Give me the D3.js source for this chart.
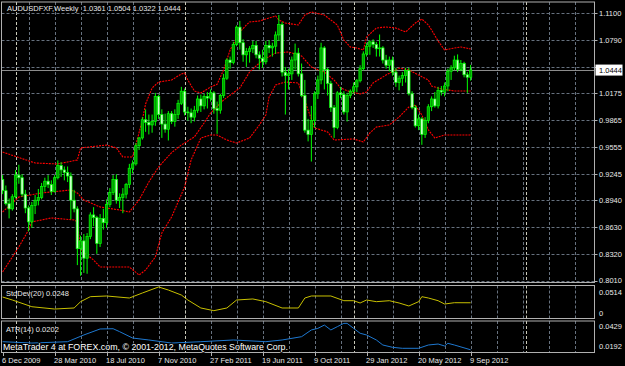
<!DOCTYPE html>
<html>
<head>
<meta charset="utf-8">
<script src="https://cdn.jsdelivr.net/npm/d3@7"></script>
<style>
body { margin: 0; background: #000; }
svg { display: block; }
text { font-family: "Liberation Sans", Arial, sans-serif; }
</style>
</head>
<body>
<svg id="chart"></svg>
<script>
var headerText = "AUDUSDFXF,Weekly  1.0361 1.0504 1.0322 1.0444";
var copyrightText = "MetaTrader 4 at FOREX.com, \u00a9 2001-2012, MetaQuotes Software Corp.";
var lastPrice = 1.0444;

// weekly bars, 6 Dec 2009 .. 9 Sep 2012
var opens = [.9180,.9050,.8900,.8840,.8980,.9230,.9200,.9010,.8850,.8690,.8880,.8940,.8970,.9100,.9160,.9120,.9040,.9200,.9340,.9290,
  .9260,.9220,.8940,.8840,.8380,.8470,.8270,.8520,.8770,.8740,.8440,.8730,.8680,.8890,.9030,.9180,.8940,.8970,.9010,.9120,
  .9310,.9360,.9570,.9660,.9870,.9840,.9810,.9850,1.0140,.9930,.9820,.9760,.9940,.9850,.9930,1.0060,1.0200,.9960,.9950,.9900,
  .9980,1.0110,1.0030,1.0140,1.0120,1.0180,1.0000,.9980,1.0150,1.0350,1.0560,1.0530,1.0740,1.0940,1.0760,1.0620,1.0660,1.0690,1.0730,1.0620,
  1.0580,1.0540,1.0730,1.0700,1.0720,1.0850,1.0970,1.0420,1.0380,1.0400,1.0560,1.0640,1.0400,1.0150,.9750,.9700,.9860,1.0170,1.0330,1.0700,
  1.0450,1.0290,1.0010,.9780,1.0180,1.0160,.9960,1.0150,1.0200,1.0250,1.0320,1.0460,1.0630,1.0720,1.0770,1.0740,1.0690,1.0700,1.0560,1.0500,
  1.0560,1.0420,1.0300,1.0350,1.0380,1.0440,1.0170,1.0010,.9800,.9880,.9700,.9860,1.0020,1.0110,1.0030,1.0210,1.0190,1.0260,1.0430,1.0470,
  1.0560,1.0450,1.0520,1.0390,1.0361];
var highs = [.9230,.9110,.8960,.9010,.9290,.9350,.9240,.9060,.8880,.8920,.9000,.9070,.9140,.9200,.9230,.9170,.9230,.9400,.9380,.9330,
  .9330,.9260,.9060,.8870,.8530,.8550,.8560,.8800,.8860,.8760,.8780,.8840,.8950,.9080,.9230,.9240,.9020,.9080,.9140,.9360,
  .9400,.9600,.9670,.9900,.9990,.9930,.9930,1.0180,1.0160,.9990,.9940,.9970,.9970,.9990,1.0100,1.0250,1.0230,1.0020,1.0000,1.0030,
  1.0150,1.0160,1.0170,1.0190,1.0220,1.0200,1.0080,1.0170,1.0400,1.0580,1.0600,1.0770,1.0960,1.1012,1.0800,1.0700,1.0720,1.0780,1.0780,1.0660,
  1.0680,1.0780,1.0790,1.0760,1.0890,1.1081,1.1000,1.0480,1.0460,1.0600,1.0750,1.0700,1.0520,1.0330,.9880,1.0030,1.0200,1.0380,1.0760,1.0720,
  1.0470,1.0320,1.0040,1.0200,1.0250,1.0200,1.0180,1.0220,1.0300,1.0340,1.0500,1.0660,1.0760,1.0790,1.0800,1.0770,1.0855,1.0720,1.0620,1.0600,
  1.0600,1.0470,1.0380,1.0420,1.0470,1.0470,1.0200,1.0040,.9930,.9900,.9900,1.0050,1.0140,1.0190,1.0250,1.0260,1.0300,1.0460,1.0500,1.0610,
  1.0625,1.0560,1.0540,1.0420,1.0504];
var lows = [.9010,.8880,.8730,.8820,.8960,.9130,.8980,.8790,.8580,.8620,.8780,.8880,.8950,.9040,.9080,.9000,.9030,.9180,.9210,.9170,
  .9150,.8720,.8800,.8190,.8067,.8100,.8090,.8490,.8640,.8320,.8400,.8600,.8620,.8860,.9000,.8900,.8850,.8790,.8960,.9080,
  .9250,.9340,.9520,.9640,.9730,.9700,.9720,.9800,.9880,.9660,.9720,.9630,.9820,.9790,.9880,1.0040,.9920,.9860,.9830,.9850,
  .9950,.9960,.9990,1.0000,1.0080,.9940,.9707,.9940,1.0120,1.0330,1.0460,1.0510,1.0720,1.0680,1.0540,1.0480,1.0530,1.0640,1.0580,1.0450,
  1.0470,1.0510,1.0640,1.0600,1.0630,1.0780,1.0370,.9930,1.0220,1.0330,1.0450,1.0370,1.0130,.9720,.9620,.9387,.9780,1.0110,1.0280,1.0220,
  1.0150,.9960,.9660,.9760,1.0120,.9930,.9850,1.0120,1.0170,1.0190,1.0300,1.0440,1.0600,1.0620,1.0700,1.0600,1.0600,1.0520,1.0460,1.0430,
  1.0380,1.0250,1.0210,1.0260,1.0300,1.0150,.9990,.9780,.9750,.9580,.9660,.9830,.9970,1.0010,1.0000,1.0150,1.0140,1.0200,1.0330,1.0440,
  1.0420,1.0430,1.0360,1.0180,1.0322];
var closes = [.9050,.8900,.8840,.8980,.9230,.9200,.9010,.8850,.8690,.8880,.8940,.8970,.9100,.9160,.9120,.9040,.9200,.9340,.9290,.9260,
  .9220,.8940,.8840,.8380,.8470,.8270,.8520,.8770,.8740,.8440,.8730,.8680,.8890,.9030,.9180,.8940,.8970,.9010,.9120,.9310,
  .9360,.9570,.9660,.9870,.9840,.9810,.9850,1.0140,.9930,.9820,.9760,.9940,.9850,.9930,1.0060,1.0200,.9960,.9950,.9900,.9980,
  1.0110,1.0030,1.0140,1.0120,1.0180,1.0000,.9980,1.0150,1.0350,1.0560,1.0530,1.0740,1.0940,1.0760,1.0620,1.0660,1.0690,1.0730,1.0620,1.0580,
  1.0540,1.0730,1.0700,1.0720,1.0850,1.0970,1.0420,1.0380,1.0400,1.0560,1.0640,1.0400,1.0150,.9750,.9700,.9860,1.0170,1.0330,1.0700,1.0450,
  1.0290,1.0010,.9780,1.0180,1.0160,.9960,1.0150,1.0200,1.0250,1.0320,1.0460,1.0630,1.0720,1.0770,1.0740,1.0690,1.0700,1.0560,1.0500,1.0560,
  1.0420,1.0300,1.0350,1.0380,1.0440,1.0170,1.0010,.9800,.9880,.9700,.9860,1.0020,1.0110,1.0030,1.0210,1.0190,1.0260,1.0430,1.0470,1.0560,
  1.0450,1.0520,1.0390,1.0361,1.0444];

// Bollinger bands: [bar, price]
var upperBand = [[0,.9497],[10,.9370],[17,.9359],[23,.9405],[24,.9544],[32,.9578],[35,.9544],[37,.9440],[40,.9440],[41,.9578],
  [43,.9867],[44,1.0052],[46,1.0237],[48,1.0306],[52,1.0329],[55,1.0399],[56,1.0410],[57,1.0329],[59,1.0202],[61,1.0179],
  [64,1.0248],[66,1.0280],[68,1.0445],[70,1.0676],[73,1.0884],[75,1.0965],[76,1.1000],[79,1.1011],[83,1.1057],[84,1.1069],
  [85,1.1023],[87,1.0988],[91,1.0965],[93,1.1080],[95,1.1115],[99,1.1080],[103,1.0965],[105,1.0791],[107,1.0711],[109,1.0699],
  [111,1.0676],[112,1.0826],[115,1.0930],[118,1.0942],[121,1.0930],[124,1.0884],[127,1.0988],[129,1.1034],[131,1.0965],[132,1.0907],
  [134,1.0780],[136,1.0676],[139,1.0699],[141,1.0711],[144,1.0688]];
var middleBand = [[0,.8804],[5,.8977],[12,.9024],[21,.9058],[23,.9024],[25,.8943],[30,.8862],[36,.8827],[39,.8804],[42,.8943],
  [45,.9151],[48,.9324],[52,.9490],[55,.9578],[59,.9671],[62,.9833],[64,.9948],[68,1.0098],[73,1.0237],[76,1.0422],
  [80,1.0560],[84,1.0641],[88,1.0653],[92,1.0607],[95,1.0479],[99,1.0422],[102,1.0329],[104,1.0237],[107,1.0191],[110,1.0168],
  [112,1.0191],[114,1.0295],[118,1.0387],[122,1.0468],[125,1.0445],[128,1.0387],[131,1.0329],[132,1.0260],[135,1.0225],[139,1.0202],
  [144,1.0202]];
var lowerBand = [[0,.8111],[3,.8284],[5,.8400],[8,.8596],[9,.8689],[15,.8735],[22,.8712],[23,.8689],[24,.8365],[28,.8249],
  [30,.8168],[39,.8168],[42,.8076],[44,.8134],[47,.8284],[49,.8562],[52,.8746],[56,.9093],[58,.9405],[61,.9659],
  [64,.9694],[66,.9694],[69,.9636],[72,.9601],[76,.9659],[79,.9809],[81,.9925],[82,1.0133],[84,1.0272],[87,1.0306],
  [91,1.0295],[92,1.0191],[94,.9983],[96,.9775],[100,.9729],[102,.9636],[108,.9648],[111,.9613],[113,.9717],[115,.9786],
  [119,.9809],[122,.9902],[125,1.0017],[127,1.0040],[129,.9925],[131,.9752],[133,.9659],[136,.9694],[144,.9694]];

var stdDevLine = [[0,.0348],[3,.0296],[9,.0179],[16,.0139],[22,.0157],[24,.0267],[27,.0354],[32,.0366],[39,.0331],[43,.0418],
  [48,.0523],[51,.0470],[55,.0383],[57,.0296],[61,.0157],[65,.0110],[69,.0157],[72,.0296],[77,.0314],[81,.0267],
  [86,.0157],[91,.0157],[93,.0331],[95,.0366],[101,.0366],[105,.0284],[108,.0284],[110,.0244],[112,.0296],[115,.0267],
  [119,.0284],[122,.0244],[125,.0192],[128,.0267],[129,.0354],[131,.0331],[134,.0284],[136,.0226],[139,.0249],[144,.0248]];
var atrLine = [[0,.0268],[9,.0257],[20,.0268],[25,.0323],[30,.0372],[34,.0374],[36,.0350],[40,.0298],[45,.0282],[52,.0257],
  [61,.0268],[71,.0282],[81,.0268],[86,.0282],[92,.0309],[95,.0364],[97,.0377],[99,.0404],[101,.0364],[103,.0391],
  [105,.0418],[106,.0418],[108,.0377],[110,.0337],[112,.0323],[115,.0282],[117,.0241],[120,.0222],[123,.0214],[128,.0214],
  [131,.0241],[134,.0249],[136,.0233],[137,.0255],[139,.0241],[144,.0202]];

var priceTicks = [1.1100, 1.0790, 1.0485, 1.0175, 0.9865, 0.9555, 0.9245, 0.8940, 0.8630, 0.8320, 0.8010];
var timeLabels = ["6 Dec 2009", "28 Mar 2010", "18 Jul 2010", "7 Nov 2010", "27 Feb 2011",
  "19 Jun 2011", "9 Oct 2011", "29 Jan 2012", "20 May 2012", "9 Sep 2012"];
var yearStartBars = [4, 56, 108, 161];
var stdDevLabel = "StdDev(20) 0.0248";
var atrLabel = "ATR(14) 0.0202";
var stdDevRange = [0, 0.0514];
var atrRange = [0.0192, 0.0429];

var W = 625, H = 366;
var left = 1.5, right = 594.5;
var panels = {
  main: [2, 282.5],
  sd: [285.5, 318.5],
  atr: [321, 352.5]
};
var gridColor = "#66717e";
var frameColor = "#b0b0b0";
var textColor = "#e8e8e8";

var svg = d3.select("#chart").attr("width", W).attr("height", H);
svg.append("rect").attr("width", W).attr("height", H).attr("fill", "#000");

var xScale = d3.scaleLinear().domain([0, 144]).range([2.6, 470.6]);
var yScale = d3.scaleLinear().domain([0.8010, 1.1100]).range([280.7, 13.3]);
var sdScale = d3.scaleLinear().domain(stdDevRange).range([317, 287.5]);
var atrScale = d3.scaleLinear().domain(atrRange).range([351, 322]);

// vertical grid every 8 bars, in all three panels
var gridBars = d3.range(8, 180, 8);
Object.keys(panels).forEach(function(k) {
  var p = panels[k];
  svg.append("g").selectAll("line").data(gridBars).enter().append("line")
    .attr("x1", function(d) { return Math.round(xScale(d)) + 0.5; })
    .attr("x2", function(d) { return Math.round(xScale(d)) + 0.5; })
    .attr("y1", p[0]).attr("y2", p[1])
    .attr("stroke", gridColor).attr("stroke-dasharray", "3,2");
  svg.append("g").selectAll("line").data(yearStartBars).enter().append("line")
    .attr("x1", function(d) { return Math.round(xScale(d)) + 0.5; })
    .attr("x2", function(d) { return Math.round(xScale(d)) + 0.5; })
    .attr("y1", p[0]).attr("y2", p[1])
    .attr("stroke", "#c8c8b8").attr("stroke-dasharray", "3,2");
});

// horizontal price grid
svg.append("g").selectAll("line").data(priceTicks).enter().append("line")
  .attr("x1", left).attr("x2", right)
  .attr("y1", function(d) { return Math.round(yScale(d)) + 0.5; })
  .attr("y2", function(d) { return Math.round(yScale(d)) + 0.5; })
  .attr("stroke", gridColor).attr("stroke-dasharray", "3,2");

// bid line
svg.append("line")
  .attr("x1", left).attr("x2", right)
  .attr("y1", Math.round(yScale(lastPrice)) + 0.5).attr("y2", Math.round(yScale(lastPrice)) + 0.5)
  .attr("stroke", "#8c8c8c");

// bollinger bands
var bandLine = d3.line()
  .x(function(d) { return xScale(d[0]); })
  .y(function(d) { return yScale(d[1]); });
[upperBand, middleBand, lowerBand].forEach(function(band) {
  svg.append("path").datum(band)
    .attr("d", bandLine)
    .attr("fill", "none")
    .attr("stroke", "#ff0000")
    .attr("stroke-width", 1.1)
    .attr("stroke-dasharray", "2,1");
});

// candles
var bars = d3.range(closes.length);
var candles = svg.append("g");
candles.selectAll("line").data(bars).enter().append("line")
  .attr("x1", function(i) { return xScale(i); })
  .attr("x2", function(i) { return xScale(i); })
  .attr("y1", function(i) { return yScale(highs[i]); })
  .attr("y2", function(i) { return yScale(lows[i]); })
  .attr("stroke", "#00ff00").attr("stroke-width", 1);
candles.selectAll("rect").data(bars).enter().append("rect")
  .attr("x", function(i) { return xScale(i) - 1.2; })
  .attr("width", 2.4)
  .attr("y", function(i) { return yScale(Math.max(opens[i], closes[i])); })
  .attr("height", function(i) { return Math.max(0.8, Math.abs(yScale(opens[i]) - yScale(closes[i]))); })
  .attr("fill", function(i) { return closes[i] >= opens[i] ? "#00a000" : "#c8ffc8"; })
  .attr("stroke", "#00ff00").attr("stroke-width", 0.7);

// indicator lines
svg.append("path").datum(stdDevLine)
  .attr("d", d3.line().x(function(d) { return xScale(d[0]); }).y(function(d) { return sdScale(d[1]); }))
  .attr("fill", "none").attr("stroke", "#c8c000").attr("stroke-width", 1);
svg.append("path").datum(atrLine)
  .attr("d", d3.line().x(function(d) { return xScale(d[0]); }).y(function(d) { return atrScale(d[1]); }))
  .attr("fill", "none").attr("stroke", "#1e78d0").attr("stroke-width", 1);

// frames
Object.keys(panels).forEach(function(k) {
  var p = panels[k];
  svg.append("rect")
    .attr("x", left).attr("y", p[0])
    .attr("width", right - left).attr("height", p[1] - p[0])
    .attr("fill", "none").attr("stroke", frameColor);
});

// price axis labels (the one under the bid box is hidden, as in MT4)
var shownTicks = priceTicks.filter(function(d) { return Math.abs(yScale(d) - yScale(lastPrice)) > 8; });
svg.append("g").selectAll("line").data(priceTicks).enter().append("line")
  .attr("x1", right).attr("x2", right + 3)
  .attr("y1", function(d) { return Math.round(yScale(d)) + 0.5; })
  .attr("y2", function(d) { return Math.round(yScale(d)) + 0.5; })
  .attr("stroke", frameColor);
svg.append("g").selectAll("text").data(shownTicks).enter().append("text")
  .attr("x", 599)
  .attr("y", function(d) { return yScale(d) + 2.7; })
  .attr("font-size", "7.5px")
  .attr("fill", textColor)
  .text(function(d) { return d.toFixed(4); });

svg.append("rect")
  .attr("x", 595.5).attr("y", yScale(lastPrice) - 5.5)
  .attr("width", 27).attr("height", 11)
  .attr("fill", "#ffffff");
svg.append("text")
  .attr("x", 599).attr("y", yScale(lastPrice) + 2.7)
  .attr("font-size", "7.5px").attr("fill", "#000")
  .text(lastPrice.toFixed(4));

// sub-window scale labels
var sideLabels = [
  [stdDevRange[1].toFixed(4), 295.3], ["0", 316],
  [atrRange[1].toFixed(4), 329.3], [atrRange[0].toFixed(4), 349.3]
];
svg.append("g").selectAll("text").data(sideLabels).enter().append("text")
  .attr("x", 599).attr("y", function(d) { return d[1]; })
  .attr("font-size", "7.5px").attr("fill", textColor)
  .text(function(d) { return d[0]; });

// time axis
svg.append("g").selectAll("line").data(timeLabels).enter().append("line")
  .attr("x1", function(d, i) { return Math.round(xScale(i * 16)) + 0.5; })
  .attr("x2", function(d, i) { return Math.round(xScale(i * 16)) + 0.5; })
  .attr("y1", panels.atr[1]).attr("y2", panels.atr[1] + 3.5)
  .attr("stroke", frameColor);
svg.append("g").selectAll("text").data(timeLabels).enter().append("text")
  .attr("x", function(d, i) { return xScale(i * 16) - 0.5; })
  .attr("y", 362.5)
  .attr("font-size", "7.5px").attr("fill", textColor)
  .text(function(d) { return d; });

// captions
svg.append("text").attr("x", 7).attr("y", 11)
  .attr("font-size", "7.5px").attr("fill", textColor)
  .attr("xml:space", "preserve")
  .text(headerText);
svg.append("text").attr("x", 6).attr("y", 296)
  .attr("font-size", "7.5px").attr("fill", textColor)
  .text(stdDevLabel);
svg.append("text").attr("x", 6).attr("y", 332)
  .attr("font-size", "7.5px").attr("fill", textColor)
  .text(atrLabel);
svg.append("text").attr("x", 3).attr("y", 349.5)
  .attr("font-size", "8.6px").attr("fill", "#ffffff")
  .attr("stroke", "#000").attr("stroke-width", 1.6).attr("paint-order", "stroke")
  .attr("textLength", 285).attr("lengthAdjust", "spacingAndGlyphs")
  .text(copyrightText);
</script>
</body>
</html>
